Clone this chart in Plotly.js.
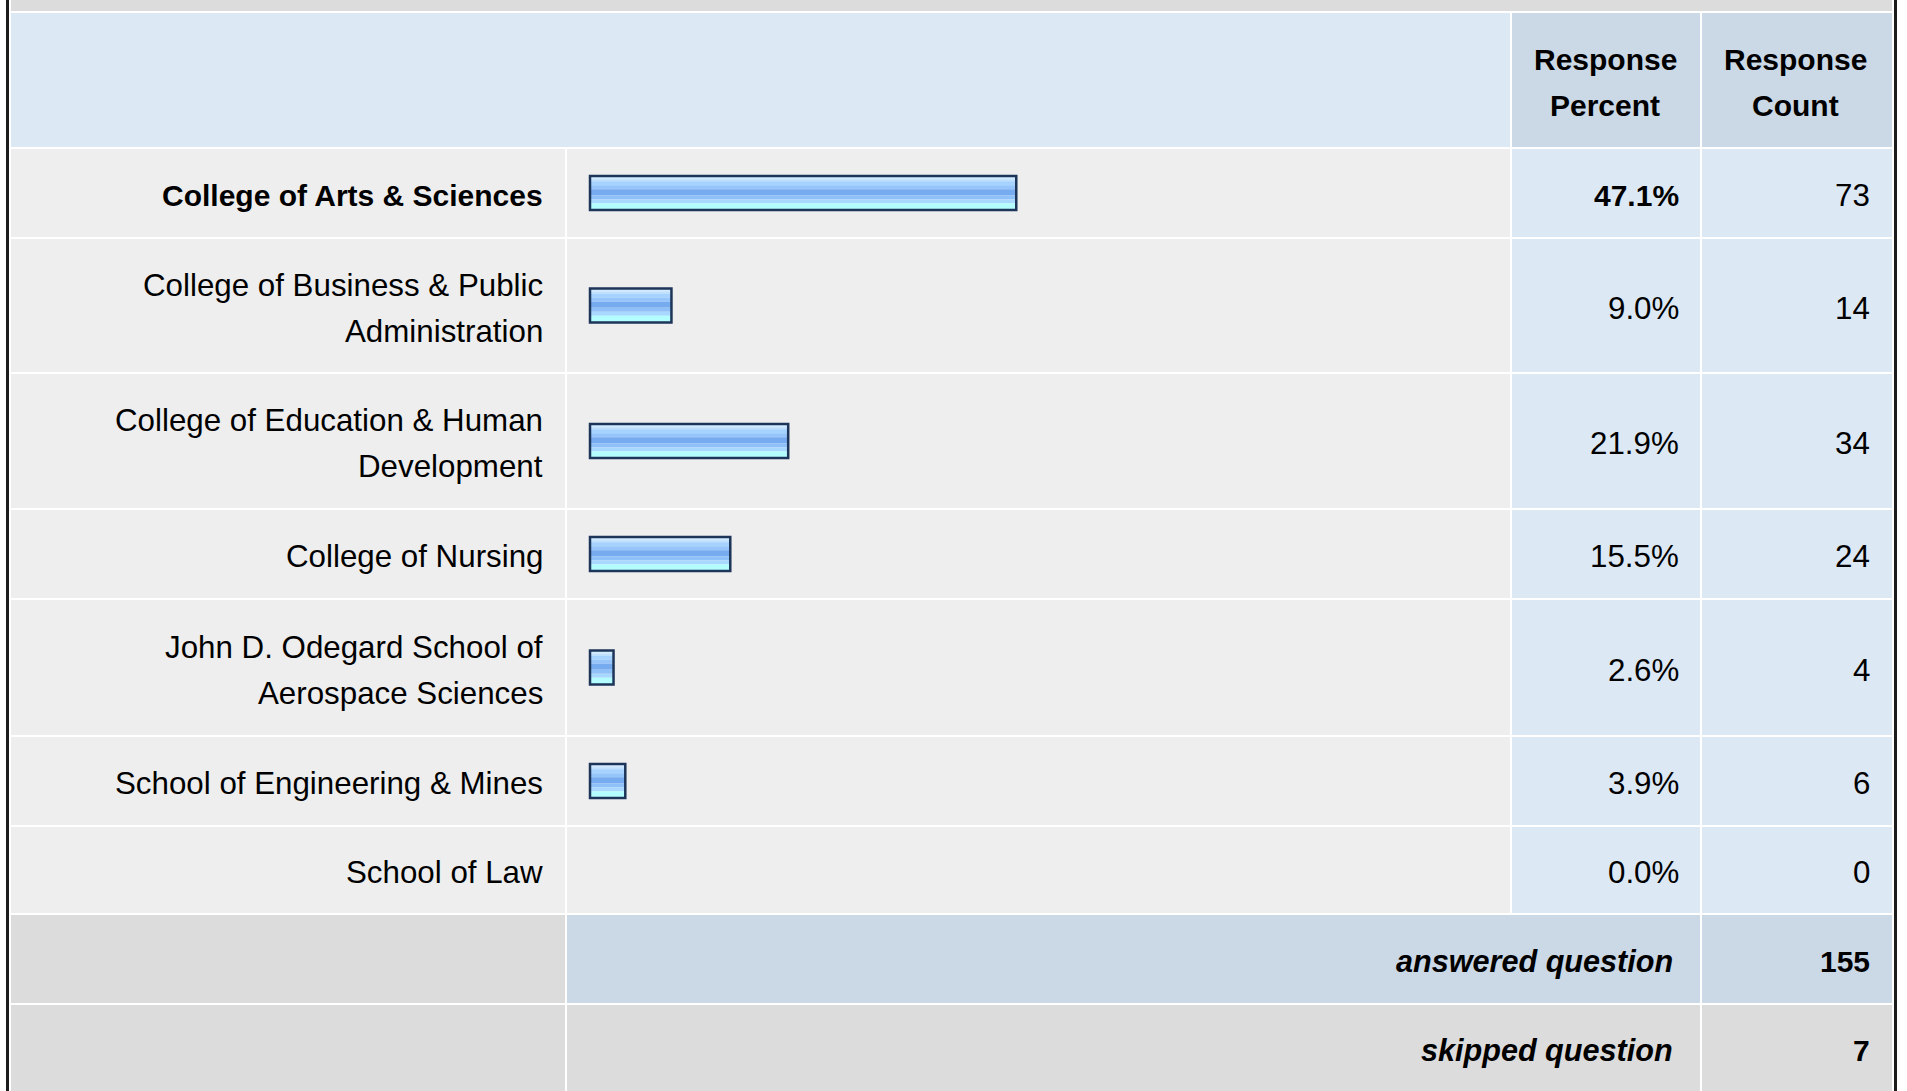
<!DOCTYPE html>
<html>
<head>
<meta charset="utf-8">
<script src="https://cdn.plot.ly/plotly-3.0.1.min.js"></script>
<style>
  html, body { margin: 0; padding: 0; background: #ffffff; overflow: hidden; }
  #chart { width: 1907px; height: 1091px; }
</style>
</head>
<body>
<div id="chart"></div>
<script>
// ---------------- data ----------------
const categories = [
  "College of Arts & Sciences",
  "College of Business & Public<br>Administration",
  "College of Education & Human<br>Development",
  "College of Nursing",
  "John D. Odegard School of<br>Aerospace Sciences",
  "School of Engineering & Mines",
  "School of Law"
];
const percents = [47.1, 9.0, 21.9, 15.5, 2.6, 3.9, 0.0];
const counts = [73, 14, 34, 24, 4, 6, 0];
const headerLabels = ["Response<br>Percent", "Response<br>Count"];
const footerLabels = ["answered question", "skipped question"];
const footerCounts = [155, 7];

// ---------------- layout (pixels) ----------------
const W = 1907, H = 1091;
const FONT = "Liberation Sans, Arial, Helvetica, sans-serif";
const FS_BOLD = 30, FS_REG = 31.3, FS_BI = 30.6;
const LINE_GAP = 46;
const COL = {
  label: [11, 565], bar: [567, 1510], pct: [1512, 1700], cnt: [1702, 1892]
};
const BORDER_L = [6, 9], BORDER_R = [1894, 1897];
const HEADER = [13, 147];
const TOPBAND = [0, 11];
const rowTop = [149, 239, 374, 510, 600, 737, 827];
const rowBot = [237, 372, 508, 598, 735, 825, 913];
const footTop = [915, 1005];
const footBot = [1003, 1091];
const TEXT_DY = 2.5;

const BAR_ORIGIN = 590;      // pixel of 0 %
const PX_PER_PCT = 9.05;     // pixels per percent
const BAR_THICK = 34;
const BAR_EDGE = 2.5;
const stripes = [            // [from, to] relative to row centre, colour
  [-17, -13.8, "#d2eaff"],
  [-13.8, -11.8, "#bde0ff"],
  [-11.8, -7.8, "#a6d2ff"],
  [-7.8, -3.8, "#96c5fb"],
  [-3.8, 2.2, "#77abf0"],
  [2.2, 6.2, "#8fc1f8"],
  [6.2, 10.2, "#a8d8ff"],
  [10.2, 17, "#b4fdff"]
];

const C_ROW = "#eeeeee", C_ROWBLUE = "#dde8f5", C_HEADBLUE = "#dde8f5",
      C_HEADCELL = "#cbd8e6", C_GRAY = "#dcdcdc", C_BORDER = "#1c1c1c",
      C_BAREDGE = "#1c3558";

const px = v => v / W;
const rowCenters = rowTop.map((t, i) => (t + rowBot[i]) / 2);
const maxIdx = percents.indexOf(Math.max(...percents));

// ---------------- shapes (cell backgrounds) ----------------
const shapes = [];
function rect(x0, x1, y0, y1, color) {
  shapes.push({type: "rect", xref: "paper", yref: "y", x0: px(x0), x1: px(x1),
    y0: y0, y1: y1, fillcolor: color, line: {width: 0}, layer: "below"});
}
rect(COL.label[0], COL.cnt[1], TOPBAND[0], TOPBAND[1], C_GRAY);
rect(COL.label[0], COL.bar[1], HEADER[0], HEADER[1], C_HEADBLUE);
rect(COL.pct[0], COL.pct[1], HEADER[0], HEADER[1], C_HEADCELL);
rect(COL.cnt[0], COL.cnt[1], HEADER[0], HEADER[1], C_HEADCELL);
categories.forEach((c, i) => {
  rect(COL.label[0], COL.label[1], rowTop[i], rowBot[i], C_ROW);
  rect(COL.bar[0], COL.bar[1], rowTop[i], rowBot[i], C_ROW);
  rect(COL.pct[0], COL.pct[1], rowTop[i], rowBot[i], C_ROWBLUE);
  rect(COL.cnt[0], COL.cnt[1], rowTop[i], rowBot[i], C_ROWBLUE);
});
// answered
rect(COL.label[0], COL.label[1], footTop[0], footBot[0], C_GRAY);
rect(COL.bar[0], COL.pct[1], footTop[0], footBot[0], C_HEADCELL);
rect(COL.cnt[0], COL.cnt[1], footTop[0], footBot[0], C_HEADCELL);
// skipped
rect(COL.label[0], COL.label[1], footTop[1], footBot[1], C_GRAY);
rect(COL.bar[0], COL.pct[1], footTop[1], footBot[1], C_GRAY);
rect(COL.cnt[0], COL.cnt[1], footTop[1], footBot[1], C_GRAY);
// outer borders
rect(BORDER_L[0], BORDER_L[1], 0, H, C_BORDER);
rect(BORDER_R[0], BORDER_R[1], 0, H, C_BORDER);

// ---------------- annotations (text) ----------------
const annotations = [];
function txt(text, xPix, y, anchor, bold, italic) {
  let t = text;
  if (italic) t = "<i>" + t + "</i>";
  if (bold) t = "<b>" + t + "</b>";
  const size = bold && italic ? FS_BI : (bold ? FS_BOLD : FS_REG);
  annotations.push({text: t, xref: "paper", yref: "y", x: px(xPix), y: y,
    xanchor: anchor, yanchor: "middle", showarrow: false,
    font: {family: FONT, size: size, color: "#000000"}});
}
function multi(text, xPix, yc, anchor, bold, italic) {
  const lines = text.split("<br>");
  const n = lines.length;
  lines.forEach((l, k) => {
    const y = yc + TEXT_DY + (k - (n - 1) / 2) * LINE_GAP;
    txt(l, xPix, y, anchor, bold, italic);
  });
}
// header
multi(headerLabels[0], (COL.pct[0] + COL.pct[1]) / 2 - 1, (HEADER[0] + HEADER[1]) / 2, "center", true);
multi(headerLabels[1], (COL.cnt[0] + COL.cnt[1]) / 2 - 2, (HEADER[0] + HEADER[1]) / 2, "center", true);
// rows
categories.forEach((c, i) => {
  const bold = i === maxIdx;
  multi(c, COL.label[1] - 20, rowCenters[i], "right", bold);
  multi(percents[i].toFixed(1) + "%", COL.pct[1] - 19, rowCenters[i], "right", bold);
  multi(String(counts[i]), COL.cnt[1] - 20, rowCenters[i], "right", false);
});
// footer
footerLabels.forEach((f, i) => {
  const yc = (footTop[i] + footBot[i]) / 2;
  multi(f, COL.pct[1] - 25, yc, "right", true, true);
  multi(String(footerCounts[i]), COL.cnt[1] - 20, yc, "right", true);
});

// ---------------- bar traces ----------------
const traces = stripes.map(s => ({
  type: "bar", orientation: "h",
  x: percents, y: rowCenters,
  offset: s[0], width: s[1] - s[0],
  marker: {color: s[2], line: {width: 0}},
  hoverinfo: "skip", showlegend: false
}));
traces.push({
  type: "bar", orientation: "h",
  x: percents, y: rowCenters,
  offset: -BAR_THICK / 2, width: BAR_THICK,
  marker: {color: "rgba(0,0,0,0)",
           line: {width: percents.map(p => p > 0 ? BAR_EDGE : 0), color: C_BAREDGE}},
  hoverinfo: "skip", showlegend: false
});

const layout = {
  width: W, height: H, autosize: false,
  margin: {l: 0, r: 0, t: 0, b: 0, pad: 0},
  paper_bgcolor: "#ffffff", plot_bgcolor: "rgba(0,0,0,0)",
  barmode: "overlay",
  showlegend: false,
  xaxis: {domain: [0, 1], range: [(0 - BAR_ORIGIN) / PX_PER_PCT, (W - BAR_ORIGIN) / PX_PER_PCT],
          visible: false, fixedrange: true, zeroline: false, showgrid: false},
  yaxis: {domain: [0, 1], range: [H, 0], visible: false, fixedrange: true,
          zeroline: false, showgrid: false},
  shapes: shapes,
  annotations: annotations
};

Plotly.newPlot("chart", traces, layout, {staticPlot: true, displayModeBar: false});
</script>
</body>
</html>
